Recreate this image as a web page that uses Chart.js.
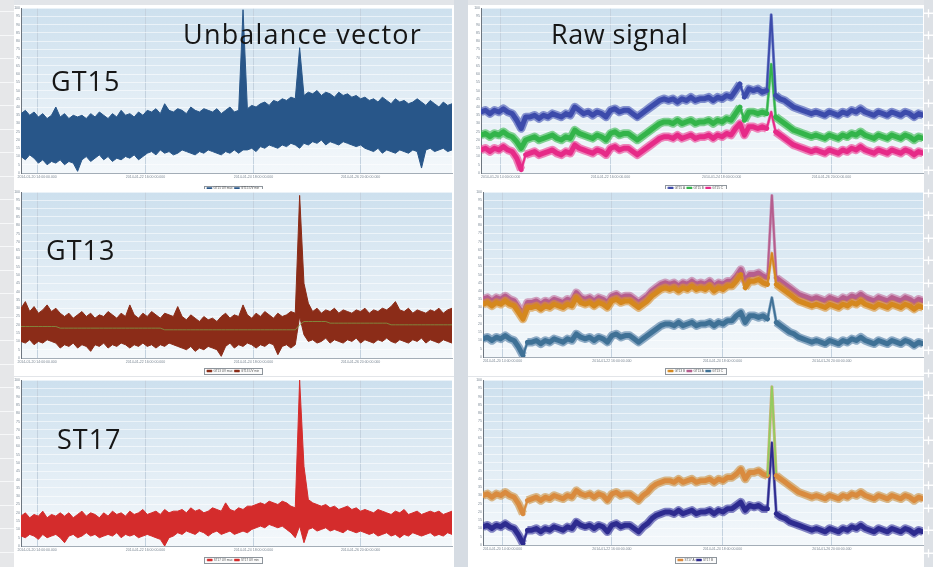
<!DOCTYPE html>
<html>
<head>
<meta charset="utf-8">
<script src="https://cdn.jsdelivr.net/npm/chart.js@4.4.1/dist/chart.umd.min.js"></script>
<style>
  html, body { margin: 0; padding: 0; }
  body { width: 933px; height: 567px; position: relative; overflow: hidden; background: #e2e5e9; }
  .strip { position: absolute; top: 0; height: 567px; }
  #lstrip { left: 0; width: 14px; background: repeating-linear-gradient(180deg, #e6e7e9 0, #e6e7e9 11px, #f7f8f9 11px, #f7f8f9 12px, #e6e7e9 12px, #e6e7e9 23.5px); }
  #gap { left: 454px; width: 14px; background: #d6dce3; }
  #rstrip { left: 924px; width: 9px; background-color: #dde1e6;
    background-image: url("data:image/svg+xml;utf8,<svg xmlns='http://www.w3.org/2000/svg' width='9' height='22.5'><path d='M0 13h9M4.5 9v8' stroke='white' stroke-width='1.3'/></svg>");
    background-repeat: repeat-y; }
  .panel { position: absolute; background: #fff; }
  .panel canvas { display: block; }
  .lbl { position: absolute; font-family: 'Open Sans', sans-serif; font-size: 27px; line-height: 27px; color: #161616; white-space: nowrap; }
</style>
</head>
<body>
<div class="strip" id="lstrip"></div>
<div class="strip" id="gap"></div>
<div class="strip" id="rstrip"></div>

<div class="panel" style="left:14px;top:5px;width:440px;height:184px"><canvas id="cTL" width="440" height="184"></canvas></div>
<div class="panel" style="left:468px;top:5px;width:456px;height:184px"><canvas id="cTR" width="456" height="184"></canvas></div>
<div class="panel" style="left:14px;top:189px;width:440px;height:187px"><canvas id="cML" width="440" height="187"></canvas></div>
<div class="panel" style="left:468px;top:189px;width:456px;height:187px"><canvas id="cMR" width="456" height="187"></canvas></div>
<div class="panel" style="left:14px;top:377px;width:440px;height:190px"><canvas id="cBL" width="440" height="190"></canvas></div>
<div class="panel" style="left:468px;top:377px;width:456px;height:190px"><canvas id="cBR" width="456" height="190"></canvas></div>

<div class="lbl" style="left:183px;top:20px;letter-spacing:1.2px">Unbalance vector</div>
<div class="lbl" style="left:551px;top:20px;letter-spacing:0.5px">Raw signal</div>
<div class="lbl" style="left:51px;top:67px;letter-spacing:1px">GT15</div>
<div class="lbl" style="left:46px;top:236px;letter-spacing:1px">GT13</div>
<div class="lbl" style="left:57px;top:425px;letter-spacing:1px">ST17</div>

<script>
// One sample per index 0..99 across the time axis; values are 0-100 of the plot height.
const xTickPosLeft = [3.7, 28.6, 53.4, 78.0];
const xTickPosRight = [4.4, 29.0, 53.9, 78.5];
const xTickLabels = ['2014-01-20 14:00:00.000', '2014-01-22 16:00:00.000', '2014-01-24 18:00:00.000', '2014-01-26 20:00:00.000'];

// ---- Unbalance vector: max / min envelope of the noisy band ----
const gt15Hi = [
  36, 38, 35, 37, 34, 36, 33, 35, 40, 34,
  36, 33, 35, 34, 35, 33, 36, 34, 37, 35,
  33, 36, 34, 38, 35, 36, 34, 37, 35, 38,
  37, 39, 36, 42, 38, 37, 39, 38, 36, 40,
  38, 37, 39, 38, 37, 39, 36, 38, 40, 37,
  38, 99, 39, 41, 40, 42, 43, 41, 44, 43,
  45, 44, 46, 45, 76, 47, 49, 48, 50, 47,
  49, 48, 46, 49, 47, 48, 46, 47, 45, 46,
  44, 45, 43, 46, 44, 42, 45, 43, 44, 42,
  43, 45, 43, 41, 44, 42, 40, 43, 41, 42,
];
const gt15Lo = [
  10, 8, 11, 9, 6, 8, 5, 7, 6, 8,
  5, 7, 6, 1, 8, 10, 7, 9, 11, 8,
  10, 7, 9, 8, 10, 9, 11, 8, 10, 12,
  13, 11, 14, 12, 13, 11, 12, 14, 13, 12,
  11, 13, 12, 14, 13, 12, 11, 13, 12, 14,
  12, 14, 14, 15, 13, 16, 15, 17, 16, 15,
  17, 16, 18, 17, 15, 18, 17, 19, 18, 20,
  17, 19, 18, 17, 19, 18, 17, 16, 17, 15,
  14, 13, 15, 12, 14, 13, 12, 14, 13, 12,
  14, 13, 3, 14, 15, 13, 14, 15, 13, 14,
];
const gt13Hi = [
  30, 34, 28, 31, 27, 29, 32, 28, 30, 27,
  25, 27, 24, 26, 28, 25, 27, 24, 26, 25,
  28, 26, 24, 27, 25, 32, 26, 24, 27, 25,
  28, 26, 24, 27, 26, 25, 31, 25, 23, 26,
  24, 22, 25, 23, 24, 22, 25, 27, 24, 26,
  25, 32, 26, 24, 27, 25, 28, 26, 24, 27,
  25, 26, 28, 27, 98, 45, 33, 28, 30, 27,
  29, 28, 30, 27, 29, 28, 27, 29, 28, 30,
  27, 29, 28, 30, 29, 31, 34, 29, 28, 30,
  27, 29, 28, 27, 29, 28, 30, 27, 29, 30,
];
const gt13Lo = [
  10, 9, 11, 8, 10, 9, 11, 10, 9, 6,
  8, 7, 9, 6, 8, 7, 4, 8, 7, 9,
  6, 8, 7, 9, 8, 6, 8, 7, 9, 7,
  8, 6, 8, 7, 9, 8, 7, 6, 5, 7,
  4, 6, 5, 7, 6, 5, 1, 7, 9, 6,
  8, 7, 9, 8, 6, 8, 7, 9, 8, 2,
  7, 8, 6, 8, 25, 14, 10, 11, 9, 10,
  12, 9, 11, 10, 9, 11, 10, 12, 9, 11,
  10, 9, 11, 10, 12, 10, 9, 11, 10, 9,
  11, 10, 12, 9, 11, 10, 9, 11, 10, 9,
];
const gt13Avg = [
  19, 19, 19, 19, 19, 19, 19, 19, 19, 18,
  18, 18, 18, 18, 18, 18, 18, 18, 18, 18,
  18, 18, 18, 18, 18, 18, 18, 18, 18, 18,
  18, 18, 18, 17, 17, 17, 17, 17, 17, 17,
  17, 17, 17, 17, 17, 17, 17, 17, 17, 17,
  17, 17, 17, 17, 17, 17, 17, 17, 17, 17,
  17, 17, 17, 17, 20, 22, 22, 22, 22, 22,
  22, 21, 21, 21, 21, 21, 21, 21, 21, 21,
  21, 21, 21, 21, 21, 20, 20, 20, 20, 20,
  20, 20, 20, 20, 20, 20, 20, 20, 20, 20,
];
const st17Hi = [
  18, 20, 17, 19, 18, 21, 17, 19, 18, 20,
  18, 20, 17, 19, 21, 18, 20, 19, 17, 20,
  18, 21, 19, 20, 18, 21, 19, 20, 22, 19,
  20, 21, 19, 22, 20, 21, 21, 22, 20, 23,
  21, 22, 20, 21, 23, 22, 21, 26, 22, 21,
  23, 22, 24, 24, 25, 26, 25, 27, 26, 25,
  27, 26, 24, 23, 100, 48, 28, 26, 25, 24,
  25, 23, 24, 22, 23, 24, 22, 23, 21, 22,
  21, 20, 22, 21, 20, 19, 21, 20, 22, 19,
  20, 21, 19, 20, 21, 20, 21, 19, 20, 21,
];
const st17Lo = [
  6, 5, 7, 6, 4, 7, 5, 6, 7, 5,
  2, 6, 7, 5, 6, 8, 6, 7, 5, 6,
  7, 6, 8, 5, 7, 6, 7, 5, 6, 7,
  6, 5, 4, 0, 5, 6, 8, 7, 9, 8,
  7, 9, 8, 6, 8, 9, 7, 8, 9, 7,
  8, 9, 8, 10, 11, 12, 11, 13, 12, 11,
  12, 10, 8, 5, 12, 2, 10, 11, 9, 10,
  11, 9, 10, 9, 8, 10, 9, 8, 9, 8,
  7, 8, 6, 7, 8, 6, 7, 5, 7, 6,
  8, 7, 6, 7, 8, 6, 7, 6, 8, 7,
];

// ---- Raw signal: one trace per sensor ----
const raw15Blue = [
  37, 38, 36, 38, 37, 39, 37, 36, 32, 27,
  34, 34, 35, 33, 35, 34, 36, 35, 34, 36,
  35, 40, 38, 36, 37, 35, 37, 36, 34, 38,
  39, 37, 38, 38, 36, 34, 36, 38, 40, 42,
  44, 45, 44, 45, 43, 45, 44, 46, 44, 45,
  45, 46, 44, 46, 45, 47, 46, 50, 54, 46,
  51, 50, 51, 49, 50, 96, 47, 45, 44, 42,
  40, 39, 38, 37, 36, 37, 36, 35, 37, 36,
  35, 37, 36, 38, 37, 39, 37, 36, 35, 37,
  36, 35, 37, 36, 35, 37, 36, 34, 36, 35,
];
const raw15Green = [
  23, 24, 22, 24, 23, 25, 23, 22, 19, 15,
  20, 21, 22, 20, 21, 22, 23, 21, 20, 22,
  21, 26, 24, 23, 22, 21, 23, 22, 20, 24,
  25, 23, 24, 24, 22, 20, 22, 24, 26, 28,
  30, 31, 31, 30, 32, 30, 31, 32, 30, 31,
  31, 32, 30, 32, 31, 33, 32, 36, 40, 32,
  37, 37, 36, 37, 36, 66, 34, 32, 30, 28,
  26, 25, 24, 23, 22, 23, 22, 21, 23, 22,
  21, 23, 22, 24, 23, 25, 23, 22, 21, 23,
  22, 21, 23, 22, 21, 23, 22, 20, 22, 21,
];
const raw15Pink = [
  14, 15, 13, 15, 14, 16, 14, 13, 9, 2,
  11, 12, 13, 11, 12, 13, 14, 12, 11, 13,
  12, 17, 15, 14, 13, 12, 14, 13, 11, 15,
  16, 14, 15, 15, 13, 11, 13, 15, 17, 19,
  21, 22, 22, 21, 23, 21, 22, 23, 21, 22,
  22, 23, 21, 23, 22, 24, 23, 27, 30, 23,
  28, 28, 27, 28, 27, 37, 25, 23, 21, 19,
  17, 16, 15, 14, 13, 14, 13, 12, 14, 13,
  12, 14, 13, 15, 14, 16, 14, 13, 12, 14,
  13, 12, 14, 13, 12, 14, 13, 11, 13, 12,
];
const raw13Mauve = [
  35, 36, 34, 36, 35, 37, 35, 34, 30, 26,
  33, 33, 34, 32, 34, 33, 35, 34, 33, 35,
  34, 39, 36, 35, 36, 34, 36, 35, 33, 37,
  38, 36, 37, 37, 35, 33, 35, 37, 40, 42,
  44, 45, 44, 45, 43, 45, 44, 46, 44, 45,
  44, 46, 43, 45, 44, 46, 46, 49, 53, 46,
  50, 50, 51, 49, 48, 98, 48, 46, 44, 42,
  40, 38, 37, 36, 35, 36, 35, 34, 36, 35,
  34, 36, 35, 37, 36, 38, 36, 35, 34, 36,
  35, 34, 36, 35, 34, 36, 35, 33, 35, 34,
];
const raw13Orange = [
  32, 33, 31, 33, 32, 34, 32, 31, 27, 23,
  30, 30, 31, 29, 31, 30, 32, 31, 30, 32,
  31, 36, 33, 32, 33, 31, 33, 32, 30, 34,
  35, 33, 34, 34, 32, 30, 32, 34, 37, 39,
  41, 42, 41, 42, 40, 42, 41, 43, 41, 42,
  41, 43, 40, 42, 41, 43, 43, 46, 50, 42,
  46, 46, 47, 45, 44, 63, 44, 42, 40, 38,
  36, 34, 33, 32, 31, 32, 31, 30, 32, 31,
  30, 32, 31, 33, 32, 34, 32, 31, 30, 32,
  31, 30, 32, 31, 30, 32, 31, 29, 31, 30,
];
const raw13Teal = [
  11, 12, 10, 12, 11, 13, 11, 10, 6, 1,
  9, 9, 10, 8, 10, 9, 11, 10, 9, 11,
  10, 14, 12, 11, 12, 10, 12, 11, 9, 13,
  14, 12, 13, 13, 11, 9, 11, 13, 15, 17,
  19, 20, 20, 19, 21, 19, 20, 21, 19, 20,
  20, 21, 19, 21, 20, 22, 22, 25, 27, 21,
  25, 25, 24, 25, 23, 36, 21, 19, 17, 15,
  14, 12, 11, 10, 9, 10, 9, 8, 10, 9,
  8, 10, 9, 11, 10, 12, 10, 9, 8, 10,
  9, 8, 10, 9, 8, 10, 9, 7, 9, 8,
];
const raw17Orange = [
  30, 31, 29, 31, 30, 32, 30, 29, 25, 19,
  27, 28, 29, 27, 29, 28, 30, 29, 28, 30,
  29, 33, 31, 30, 31, 29, 31, 30, 27, 31,
  32, 30, 31, 31, 29, 27, 30, 32, 35, 37,
  38, 39, 39, 38, 40, 38, 39, 40, 38, 39,
  39, 40, 38, 40, 39, 41, 41, 43, 46, 40,
  44, 44, 45, 43, 42, 96, 42, 40, 38, 36,
  34, 32, 31, 30, 29, 30, 29, 28, 30, 29,
  28, 30, 29, 31, 30, 32, 30, 29, 28, 30,
  29, 28, 30, 29, 28, 30, 29, 27, 29, 28,
];
const raw17Navy = [
  11, 12, 10, 12, 11, 13, 11, 10, 6, 1,
  9, 9, 10, 8, 10, 9, 11, 10, 9, 11,
  10, 14, 12, 11, 12, 10, 12, 11, 8, 12,
  13, 11, 12, 12, 10, 8, 11, 13, 16, 18,
  19, 20, 20, 19, 21, 19, 20, 21, 19, 20,
  20, 21, 19, 21, 20, 22, 22, 24, 26, 21,
  24, 23, 24, 22, 22, 62, 19, 17, 16, 14,
  13, 12, 11, 10, 9, 10, 9, 8, 10, 9,
  8, 10, 9, 11, 10, 12, 10, 9, 8, 10,
  9, 8, 10, 9, 8, 10, 9, 7, 9, 8,
];

const pts = (arr) => arr.map((y, x) => ({ x, y }));
const steep = (c) => Math.abs(c.p1.parsed.y - c.p0.parsed.y) > 7;

// Band = max line + min line filled back up to it.
function band(name, hi, lo, color) {
  return [
    { label: name + ' max', data: pts(hi), borderColor: color, backgroundColor: color, borderWidth: 1, pointRadius: 0, fill: false },
    { label: name + ' min', data: pts(lo), borderColor: color, backgroundColor: color, borderWidth: 1, pointRadius: 0, fill: '-1' },
  ];
}
// Noisy trace = solid core plus a soft halo; steep jumps are drawn thin like the raw spikes.
function trace(name, arr, color, halo, spikeColor) {
  return [
    {
      label: name, data: pts(arr), borderColor: color, backgroundColor: color,
      borderWidth: 5, borderJoinStyle: 'round', borderCapStyle: 'round', pointRadius: 0, fill: false,
      segment: {
        borderWidth: (c) => (steep(c) ? 1.8 : undefined),
        borderColor: (c) => (spikeColor && (c.p0.parsed.y > 55 || c.p1.parsed.y > 55) ? spikeColor : undefined),
      },
    },
    {
      label: name + ' band', data: pts(arr), borderColor: halo, borderWidth: 8.5, borderJoinStyle: 'round',
      pointRadius: 0, fill: false, noLegend: true,
      segment: { borderWidth: (c) => (steep(c) ? 3 : undefined) },
    },
  ];
}

// Light-blue plot gradient, plus the small framed legend under each plot.
const panelBg = {
  id: 'panelBg',
  beforeDraw(chart) {
    const { ctx, chartArea: a } = chart;
    const g = ctx.createLinearGradient(0, a.top, 0, a.bottom);
    g.addColorStop(0, '#cde0ee');
    g.addColorStop(1, '#f4f8fb');
    ctx.save();
    ctx.fillStyle = g;
    ctx.fillRect(a.left, a.top, a.right - a.left, a.bottom - a.top);
    const hb = chart.legend && chart.legend.legendHitBoxes;
    if (hb && hb.length) {
      const x0 = Math.min(...hb.map((h) => h.left)) - 3;
      const x1 = Math.max(...hb.map((h) => h.left + h.width)) + 3;
      const y0 = hb[0].top - 1.5, y1 = hb[0].top + hb[0].height + 1.5;
      ctx.fillStyle = '#fbfbfb';
      ctx.strokeStyle = '#8e959c';
      ctx.lineWidth = 1;
      ctx.fillRect(x0, y0, x1 - x0, y1 - y0);
      ctx.strokeRect(Math.round(x0) + 0.5, Math.round(y0) + 0.5, Math.round(x1 - x0), Math.round(y1 - y0));
    }
    ctx.restore();
  },
};

function panelChart(id, o) {
  return new Chart(document.getElementById(id), {
    type: 'line',
    data: { datasets: o.datasets },
    options: {
      responsive: false,
      animation: false,
      events: [],
      layout: { autoPadding: false, padding: { top: o.top, right: o.right, left: 0, bottom: 0 } },
      plugins: {
        tooltip: { enabled: false },
        legend: {
          position: 'bottom',
          maxHeight: o.legendH,
          labels: {
            font: { size: 3, family: 'Arial' }, color: '#555', boxWidth: 5, boxHeight: 2, padding: 2,
            generateLabels: (chart) => Chart.defaults.plugins.legend.labels.generateLabels(chart)
              .map((l) => Object.assign(l, { lineWidth: 0.5 })),
            filter: (item, data) => !data.datasets[item.datasetIndex].noLegend,
          },
        },
      },
      scales: {
        x: {
          type: 'linear', min: 0, max: 99,
          afterBuildTicks: (s) => { s.ticks = o.xTicks.map((v) => ({ value: v })); },
          afterFit: (s) => { s.height = o.xH; },
          ticks: { autoSkip: false, maxRotation: 0, padding: 2, font: { size: 3.5, family: 'Arial' }, color: '#7b8793',
            callback: (v, i) => xTickLabels[i] },
          grid: { color: '#c4d2df', drawTicks: false },
          border: { color: '#a3adb7' },
        },
        y: {
          min: 0, max: 100,
          afterFit: (s) => { s.width = o.yW; },
          ticks: { stepSize: 5, autoSkip: false, padding: 1, font: { size: 3.5, family: 'Arial' }, color: '#7a8794' },
          grid: { color: 'rgba(255,255,255,0.55)', drawTicks: false },
          border: { color: '#6d7680' },
        },
      },
    },
    plugins: [panelBg],
  });
}

// ---- Left column: unbalance vector ----
panelChart('cTL', { top: 2, right: 2, yW: 7, xH: 12, legendH: 4, xTicks: xTickPosLeft,
  datasets: band('GT15 UV', gt15Hi, gt15Lo, '#285689') });
panelChart('cML', { top: 1, right: 2, yW: 7, xH: 9.5, legendH: 8.5, xTicks: xTickPosLeft,
  datasets: [
    { label: 'GT13 avg', data: pts(gt13Avg), borderColor: '#7f9a45', borderWidth: 0.8, pointRadius: 0, fill: false, noLegend: true },
    ...band('GT13 UV', gt13Hi, gt13Lo, '#8b2c18'),
  ] });
panelChart('cBL', { top: 2, right: 2, yW: 7, xH: 10.5, legendH: 10.5, xTicks: xTickPosLeft,
  datasets: band('ST17 UV', st17Hi, st17Lo, '#d42c2c') });

// ---- Right column: raw signals ----
panelChart('cTR', { top: 2, right: 1, yW: 13, xH: 11.5, legendH: 4.5, xTicks: xTickPosRight,
  datasets: [
    ...trace('GT15 A', raw15Blue, '#3c4bab', 'rgba(70,85,180,0.62)'),
    ...trace('GT15 B', raw15Green, '#33b44a', 'rgba(60,185,80,0.62)'),
    ...trace('GT15 C', raw15Pink, '#e62a88', 'rgba(235,60,145,0.62)'),
  ] });
panelChart('cMR', { top: 1, right: 1, yW: 15, xH: 10.5, legendH: 8.5, xTicks: xTickPosRight,
  datasets: [
    ...trace('GT13 B', raw13Orange, '#d5881f', 'rgba(218,145,50,0.62)'),
    ...trace('GT13 A', raw13Mauve, '#b65e8e', 'rgba(190,110,155,0.62)'),
    ...trace('GT13 C', raw13Teal, '#3f7196', 'rgba(80,125,165,0.62)'),
  ] });
panelChart('cBR', { top: 2, right: 1, yW: 15, xH: 11.5, legendH: 10.5, xTicks: xTickPosRight,
  datasets: [
    ...trace('ST17 A', raw17Orange, '#d98b3f', 'rgba(205,145,65,0.62)', '#93cc5e'),
    ...trace('ST17 B', raw17Navy, '#2d2b8f', 'rgba(60,58,160,0.62)'),
  ] });
</script>
</body>
</html>
